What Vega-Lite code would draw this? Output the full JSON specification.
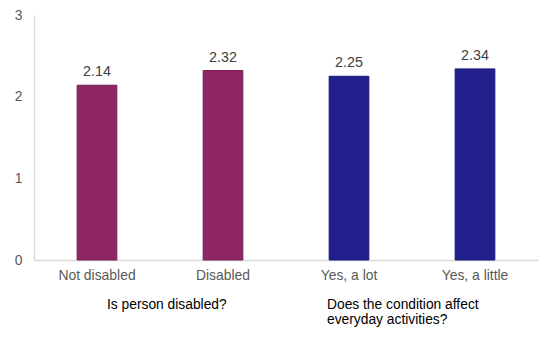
{
  "$schema": "https://vega.github.io/schema/vega-lite/v6.json",
  "width": 504,
  "height": 245,
  "autosize": "none",
  "padding": {"left": 34, "top": 15, "right": 6, "bottom": 79},
  "background": "white",
  "config": {
    "view": {"stroke": null},
    "font": "Liberation Sans"
  },
  "layer": [
    {
      "data": {
        "values": [
          {"category": "Not disabled", "value": 2.14, "group": "disabled"},
          {"category": "Disabled", "value": 2.32, "group": "disabled"},
          {"category": "Yes, a lot", "value": 2.25, "group": "affect"},
          {"category": "Yes, a little", "value": 2.34, "group": "affect"}
        ]
      },
      "layer": [
        {
          "mark": {"type": "bar", "strokeWidth": 1},
          "encoding": {
            "x": {
              "field": "category",
              "type": "nominal",
              "sort": null,
              "scale": {"paddingInner": 0.685, "paddingOuter": 0.3425},
              "axis": {
                "title": null,
                "labelAngle": 0,
                "ticks": false,
                "domainColor": "#d9d9d9",
                "domainWidth": 1.5,
                "labelColor": "#595959",
                "labelFontSize": 13.9,
                "labelPadding": 8,
                "labelFont": "Liberation Sans"
              }
            },
            "y": {
              "field": "value",
              "type": "quantitative",
              "scale": {"domain": [0, 3]},
              "axis": {
                "title": null,
                "values": [0, 1, 2, 3],
                "format": "d",
                "ticks": false,
                "grid": false,
                "domainColor": "#d9d9d9",
                "domainWidth": 1.5,
                "labelColor": "#595959",
                "labelFontSize": 13.9,
                "labelPadding": 12,
                "labelFont": "Liberation Sans"
              }
            },
            "color": {
              "field": "group",
              "type": "nominal",
              "scale": {"domain": ["disabled", "affect"], "range": ["#8E2663", "#211F8C"]},
              "legend": null
            },
            "stroke": {
              "field": "group",
              "type": "nominal",
              "scale": {"domain": ["disabled", "affect"], "range": ["#7A1A55", "#1A1878"]},
              "legend": null
            }
          }
        },
        {
          "mark": {"type": "text", "baseline": "alphabetic", "dy": -9, "fontSize": 14.3, "color": "#404040", "font": "Liberation Sans"},
          "encoding": {
            "x": {"field": "category", "type": "nominal", "sort": null},
            "y": {"field": "value", "type": "quantitative"},
            "text": {"field": "value", "type": "quantitative", "format": ".2f"}
          }
        }
      ]
    },
    {
      "data": {"values": [{"category": "Not disabled", "label": "Is person disabled?"}]},
      "mark": {"type": "text", "align": "left", "baseline": "alphabetic", "dx": 10, "dy": 48.5, "fontSize": 13.8, "color": "#000000", "font": "Liberation Sans"},
      "encoding": {
        "x": {"field": "category", "type": "nominal", "sort": null},
        "y": {"datum": 0, "type": "quantitative"},
        "text": {"field": "label", "type": "nominal"}
      }
    },
    {
      "data": {"values": [{"category": "Yes, a lot", "label": "Does the condition affect\neveryday activities?"}]},
      "mark": {"type": "text", "align": "left", "baseline": "alphabetic", "lineBreak": "\n", "lineHeight": 15, "dx": -22, "dy": 48.5, "fontSize": 13.8, "color": "#000000", "font": "Liberation Sans"},
      "encoding": {
        "x": {"field": "category", "type": "nominal", "sort": null},
        "y": {"datum": 0, "type": "quantitative"},
        "text": {"field": "label", "type": "nominal"}
      }
    }
  ]
}
